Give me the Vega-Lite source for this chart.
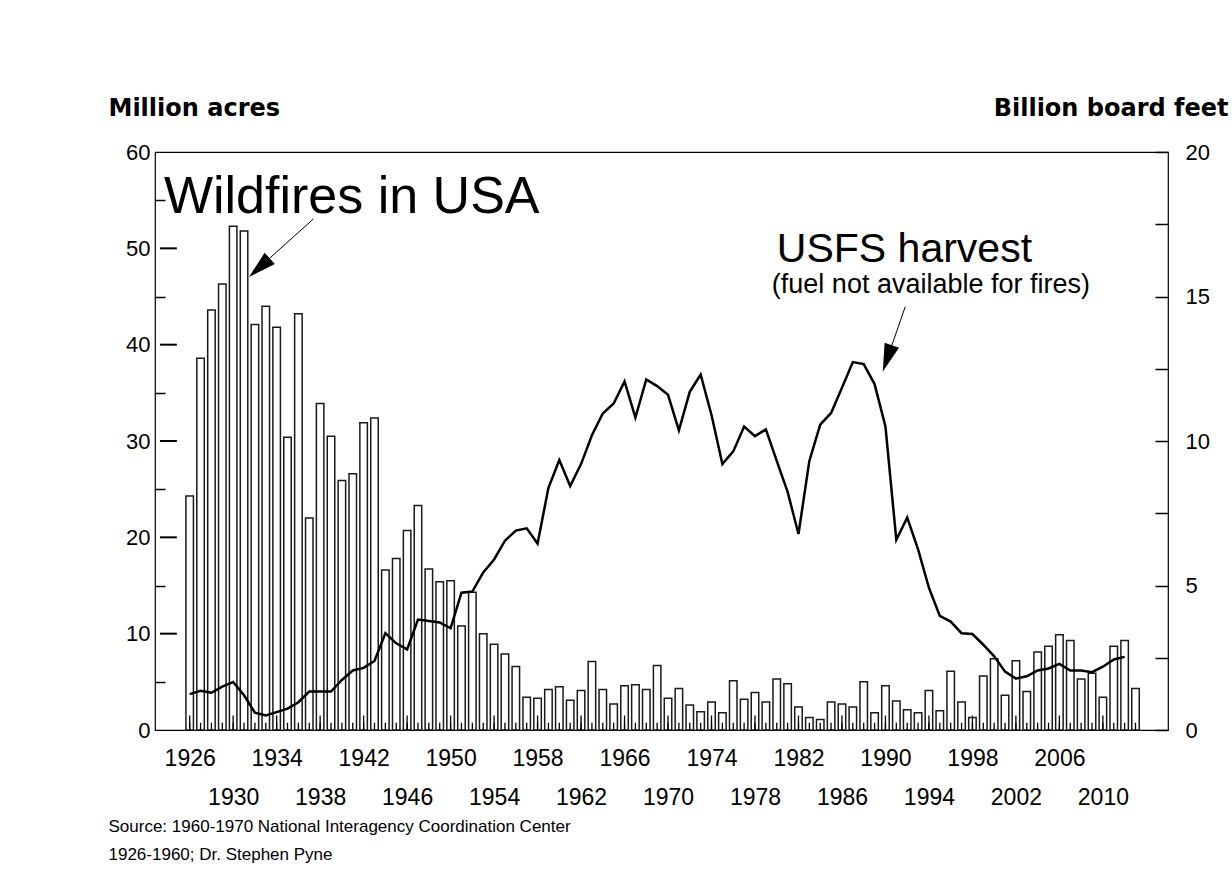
{
  "$schema": "https://vega.github.io/schema/vega-lite/v6.json",
  "width": 1013,
  "height": 578,
  "autosize": {"type": "none"},
  "padding": {"left": 155, "top": 152, "right": 64, "bottom": 158},
  "background": "white",
  "config": {
    "view": {"stroke": "black", "strokeWidth": 1.2},
    "font": "Liberation Sans",
    "axis": {"labelFont": "Liberation Sans", "titleFont": "Liberation Sans", "labelColor": "black", "titleColor": "black", "tickColor": "black", "grid": false, "domain": false, "tickWidth": 1.5, "zindex": 1}
  },
  "datasets": {
    "fires": [
      {"year": 1926, "acres": 24.3}, {"year": 1927, "acres": 38.6}, {"year": 1928, "acres": 43.6}, {"year": 1929, "acres": 46.3},
      {"year": 1930, "acres": 52.3}, {"year": 1931, "acres": 51.8}, {"year": 1932, "acres": 42.1}, {"year": 1933, "acres": 44.0},
      {"year": 1934, "acres": 41.8}, {"year": 1935, "acres": 30.4}, {"year": 1936, "acres": 43.2}, {"year": 1937, "acres": 22.0},
      {"year": 1938, "acres": 33.9}, {"year": 1939, "acres": 30.5}, {"year": 1940, "acres": 25.9}, {"year": 1941, "acres": 26.6},
      {"year": 1942, "acres": 31.9}, {"year": 1943, "acres": 32.4}, {"year": 1944, "acres": 16.6}, {"year": 1945, "acres": 17.8},
      {"year": 1946, "acres": 20.7}, {"year": 1947, "acres": 23.3}, {"year": 1948, "acres": 16.7}, {"year": 1949, "acres": 15.4},
      {"year": 1950, "acres": 15.5}, {"year": 1951, "acres": 10.8}, {"year": 1952, "acres": 14.3}, {"year": 1953, "acres": 10.0},
      {"year": 1954, "acres": 8.9}, {"year": 1955, "acres": 7.9}, {"year": 1956, "acres": 6.6}, {"year": 1957, "acres": 3.4},
      {"year": 1958, "acres": 3.3}, {"year": 1959, "acres": 4.2}, {"year": 1960, "acres": 4.5}, {"year": 1961, "acres": 3.1},
      {"year": 1962, "acres": 4.1}, {"year": 1963, "acres": 7.1}, {"year": 1964, "acres": 4.2}, {"year": 1965, "acres": 2.7},
      {"year": 1966, "acres": 4.6}, {"year": 1967, "acres": 4.7}, {"year": 1968, "acres": 4.2}, {"year": 1969, "acres": 6.7},
      {"year": 1970, "acres": 3.3}, {"year": 1971, "acres": 4.3}, {"year": 1972, "acres": 2.6}, {"year": 1973, "acres": 1.9},
      {"year": 1974, "acres": 2.9}, {"year": 1975, "acres": 1.8}, {"year": 1976, "acres": 5.1}, {"year": 1977, "acres": 3.2},
      {"year": 1978, "acres": 3.9}, {"year": 1979, "acres": 2.9}, {"year": 1980, "acres": 5.3}, {"year": 1981, "acres": 4.8},
      {"year": 1982, "acres": 2.4}, {"year": 1983, "acres": 1.3}, {"year": 1984, "acres": 1.1}, {"year": 1985, "acres": 2.9},
      {"year": 1986, "acres": 2.7}, {"year": 1987, "acres": 2.4}, {"year": 1988, "acres": 5.0}, {"year": 1989, "acres": 1.8},
      {"year": 1990, "acres": 4.6}, {"year": 1991, "acres": 3.0}, {"year": 1992, "acres": 2.1}, {"year": 1993, "acres": 1.8},
      {"year": 1994, "acres": 4.1}, {"year": 1995, "acres": 2.0}, {"year": 1996, "acres": 6.1}, {"year": 1997, "acres": 2.9},
      {"year": 1998, "acres": 1.3}, {"year": 1999, "acres": 5.6}, {"year": 2000, "acres": 7.4}, {"year": 2001, "acres": 3.6},
      {"year": 2002, "acres": 7.2}, {"year": 2003, "acres": 4.0}, {"year": 2004, "acres": 8.1}, {"year": 2005, "acres": 8.7},
      {"year": 2006, "acres": 9.9}, {"year": 2007, "acres": 9.3}, {"year": 2008, "acres": 5.3}, {"year": 2009, "acres": 5.9},
      {"year": 2010, "acres": 3.4}, {"year": 2011, "acres": 8.7}, {"year": 2012, "acres": 9.3}, {"year": 2013, "acres": 4.3}
    ],
    "harvest": [
      {"year": 1926, "bbf": 1.24}, {"year": 1927, "bbf": 1.36}, {"year": 1928, "bbf": 1.29}, {"year": 1929, "bbf": 1.5},
      {"year": 1930, "bbf": 1.66}, {"year": 1931, "bbf": 1.2}, {"year": 1932, "bbf": 0.6}, {"year": 1933, "bbf": 0.5},
      {"year": 1934, "bbf": 0.62}, {"year": 1935, "bbf": 0.74}, {"year": 1936, "bbf": 0.96}, {"year": 1937, "bbf": 1.33},
      {"year": 1938, "bbf": 1.33}, {"year": 1939, "bbf": 1.33}, {"year": 1940, "bbf": 1.73}, {"year": 1941, "bbf": 2.06},
      {"year": 1942, "bbf": 2.15}, {"year": 1943, "bbf": 2.39}, {"year": 1944, "bbf": 3.35}, {"year": 1945, "bbf": 3.0},
      {"year": 1946, "bbf": 2.79}, {"year": 1947, "bbf": 3.82}, {"year": 1948, "bbf": 3.77}, {"year": 1949, "bbf": 3.72},
      {"year": 1950, "bbf": 3.52}, {"year": 1951, "bbf": 4.75}, {"year": 1952, "bbf": 4.79}, {"year": 1953, "bbf": 5.45},
      {"year": 1954, "bbf": 5.9}, {"year": 1955, "bbf": 6.55}, {"year": 1956, "bbf": 6.9}, {"year": 1957, "bbf": 6.98},
      {"year": 1958, "bbf": 6.45}, {"year": 1959, "bbf": 8.38}, {"year": 1960, "bbf": 9.34}, {"year": 1961, "bbf": 8.44},
      {"year": 1962, "bbf": 9.2}, {"year": 1963, "bbf": 10.2}, {"year": 1964, "bbf": 10.95}, {"year": 1965, "bbf": 11.3},
      {"year": 1966, "bbf": 12.06}, {"year": 1967, "bbf": 10.81}, {"year": 1968, "bbf": 12.13}, {"year": 1969, "bbf": 11.9},
      {"year": 1970, "bbf": 11.6}, {"year": 1971, "bbf": 10.37}, {"year": 1972, "bbf": 11.7}, {"year": 1973, "bbf": 12.3},
      {"year": 1974, "bbf": 10.9}, {"year": 1975, "bbf": 9.2}, {"year": 1976, "bbf": 9.64}, {"year": 1977, "bbf": 10.5},
      {"year": 1978, "bbf": 10.17}, {"year": 1979, "bbf": 10.4}, {"year": 1980, "bbf": 9.31}, {"year": 1981, "bbf": 8.24},
      {"year": 1982, "bbf": 6.78}, {"year": 1983, "bbf": 9.31}, {"year": 1984, "bbf": 10.57}, {"year": 1985, "bbf": 10.97},
      {"year": 1986, "bbf": 11.84}, {"year": 1987, "bbf": 12.73}, {"year": 1988, "bbf": 12.66}, {"year": 1989, "bbf": 11.97},
      {"year": 1990, "bbf": 10.5}, {"year": 1991, "bbf": 6.58}, {"year": 1992, "bbf": 7.35}, {"year": 1993, "bbf": 6.25},
      {"year": 1994, "bbf": 4.92}, {"year": 1995, "bbf": 3.95}, {"year": 1996, "bbf": 3.75}, {"year": 1997, "bbf": 3.35},
      {"year": 1998, "bbf": 3.32}, {"year": 1999, "bbf": 2.95}, {"year": 2000, "bbf": 2.55}, {"year": 2001, "bbf": 2.02},
      {"year": 2002, "bbf": 1.78}, {"year": 2003, "bbf": 1.86}, {"year": 2004, "bbf": 2.06}, {"year": 2005, "bbf": 2.13},
      {"year": 2006, "bbf": 2.29}, {"year": 2007, "bbf": 2.06}, {"year": 2008, "bbf": 2.06}, {"year": 2009, "bbf": 2.0},
      {"year": 2010, "bbf": 2.19}, {"year": 2011, "bbf": 2.44}, {"year": 2012, "bbf": 2.53}
    ]
  },
  "layer": [
    {
      "layer": [
        {
          "data": {"name": "fires"},
          "mark": {"type": "bar", "fill": "white", "stroke": "#1a1a1a", "strokeWidth": 1.5, "width": 7.5},
          "encoding": {
            "x": {
              "field": "year", "type": "quantitative",
              "scale": {"domain": [1923.27, 2015.53], "nice": false, "zero": false},
              "axis": null
            },
            "y": {
              "field": "acres", "type": "quantitative",
              "scale": {"domain": [0, 60], "nice": false},
              "axis": {
                "orient": "left",
                "values": [0,10,20,30,40,50,60],
                "ticks": false,
                "labelPadding": 5,
                "labelFontSize": 22,
                "labelBaseline": "middle",
                "title": "Million acres",
                "titleFont": "DejaVu Sans",
                "titleAngle": 0,
                "titleX": -47,
                "titleY": -44,
                "titleAlign": "left",
                "titleBaseline": "middle",
                "titleFontSize": 24,
                "titleFontWeight": "bold"
              }
            },
            "y2": {"datum": 0}
          }
        },
        {
          "data": {"name": "fires"},
          "mark": {"type": "rule", "color": "black", "strokeWidth": 1.3},
          "encoding": {
            "x": {"field": "year", "type": "quantitative", "axis": null},
            "y": {"datum": 0, "axis": null},
            "y2": {"datum": 0.75}
          }
        },
        {
          "data": {"name": "fires"},
          "transform": [{"filter": "(datum.year - 1926) % 4 == 0"}],
          "mark": {"type": "rule", "color": "black", "strokeWidth": 1.3},
          "encoding": {
            "x": {"field": "year", "type": "quantitative", "axis": null},
            "y": {"datum": 0, "axis": null},
            "y2": {"datum": 1.5}
          }
        },
        {
          "data": {"values": [{}]},
          "mark": {"type": "rule", "color": "black", "strokeWidth": 2},
          "encoding": {"x": {"datum": 1923.27, "axis": null}, "x2": {"datum": 1924.82}, "y": {"datum": 10, "axis": null}}
        },
        {
          "data": {"values": [{}]},
          "mark": {"type": "rule", "color": "black", "strokeWidth": 2},
          "encoding": {"x": {"datum": 1923.27, "axis": null}, "x2": {"datum": 1924.82}, "y": {"datum": 20, "axis": null}}
        },
        {
          "data": {"values": [{}]},
          "mark": {"type": "rule", "color": "black", "strokeWidth": 2},
          "encoding": {"x": {"datum": 1923.27, "axis": null}, "x2": {"datum": 1924.82}, "y": {"datum": 30, "axis": null}}
        },
        {
          "data": {"values": [{}]},
          "mark": {"type": "rule", "color": "black", "strokeWidth": 2},
          "encoding": {"x": {"datum": 1923.27, "axis": null}, "x2": {"datum": 1924.82}, "y": {"datum": 40, "axis": null}}
        },
        {
          "data": {"values": [{}]},
          "mark": {"type": "rule", "color": "black", "strokeWidth": 2},
          "encoding": {"x": {"datum": 1923.27, "axis": null}, "x2": {"datum": 1924.82}, "y": {"datum": 50, "axis": null}}
        },
        {
          "data": {"values": [{}]},
          "mark": {"type": "text", "align": "left", "baseline": "middle", "fontSize": 52, "font": "Liberation Sans", "color": "black"},
          "encoding": {
            "x": {"datum": 1923.63, "axis": null},
            "y": {"datum": 55.33, "axis": {"orient": "left", "values": [5,15,25,35,45,55], "tickSize": -10, "tickColor": "black", "tickWidth": 1.5, "labels": false, "title": null}},
            "text": {"value": "Wildfires in USA"}
          }
        },
        {
          "data": {"values": [{}]},
          "mark": {"type": "text", "align": "left", "baseline": "middle", "fontSize": 41, "font": "Liberation Sans", "color": "black"},
          "encoding": {"x": {"datum": 1980.01, "axis": null}, "y": {"datum": 49.83, "axis": null}, "text": {"value": "USFS harvest"}}
        },
        {
          "data": {"values": [{}]},
          "mark": {"type": "text", "align": "left", "baseline": "middle", "fontSize": 27, "font": "Liberation Sans", "color": "black"},
          "encoding": {"x": {"datum": 1979.55, "axis": null}, "y": {"datum": 46.2, "axis": null}, "text": {"value": "(fuel not available for fires)"}}
        },
        {
          "data": {"values": [{}]},
          "mark": {"type": "rule", "strokeWidth": 1, "color": "black"},
          "encoding": {"x": {"datum": 1937.38, "axis": null}, "y": {"datum": 53.05, "axis": null}, "x2": {"datum": 1931.9}, "y2": {"datum": 47.5}}
        },
        {
          "data": {"values": [{}]},
          "mark": {"type": "rule", "strokeWidth": 1, "color": "black"},
          "encoding": {"x": {"datum": 1991.82, "axis": null}, "y": {"datum": 43.94, "axis": null}, "x2": {"datum": 1990.0}, "y2": {"datum": 38.0}}
        },
        {
          "data": {"values": [{}]},
          "mark": {"type": "point", "shape": "M0,0L-0.6,2.2L0.6,2.2Z", "filled": true, "fill": "black", "opacity": 1, "size": 640, "angle": 228, "strokeWidth": 0},
          "encoding": {"x": {"datum": 1931.46, "axis": null}, "y": {"datum": 47.03, "axis": null}}
        },
        {
          "data": {"values": [{}]},
          "mark": {"type": "point", "shape": "M0,0L-0.6,2.2L0.6,2.2Z", "filled": true, "fill": "black", "opacity": 1, "size": 640, "angle": 199, "strokeWidth": 0},
          "encoding": {"x": {"datum": 1989.75, "axis": null}, "y": {"datum": 37.2, "axis": null}}
        }
      ],
      "resolve": {"axis": {"y": "independent"}}
    },
    {
      "data": {"name": "harvest"},
      "mark": {"type": "line", "color": "black", "strokeWidth": 2.5},
      "encoding": {
        "x": {
          "field": "year", "type": "quantitative",
          "axis": {
            "orient": "bottom",
            "values": [1926,1930,1934,1938,1942,1946,1950,1954,1958,1962,1966,1970,1974,1978,1982,1986,1990,1994,1998,2002,2006,2010],
            "format": "d",
            "ticks": false,
            "labelPadding": {"condition": {"test": "(datum.value - 1926) % 8 == 0", "value": 28}, "value": 67},
            "labelBaseline": "middle",
            "labelFontSize": 23,
            "labelOverlap": false,
            "labelFlush": false,
            "title": ["Source: 1960-1970 National Interagency Coordination Center", "1926-1960; Dr. Stephen Pyne"],
            "titleX": -47,
            "titleY": 101,
            "titleAlign": "left",
            "titleAnchor": "start",
            "titleBaseline": "alphabetic",
            "titleFontSize": 17,
            "titleFontWeight": "normal",
            "titleLineHeight": 28
          }
        },
        "y": {
          "field": "bbf", "type": "quantitative",
          "scale": {"domain": [0, 20], "nice": false},
          "axis": {
            "orient": "right",
            "values": [0,2.5,5,7.5,10,12.5,15,17.5,20],
            "labelExpr": "datum.value % 5 == 0 ? '' + datum.value : ''",
            "tickSize": -13,
            "tickColor": "black",
            "tickWidth": 1.5,
            "labelPadding": 30,
            "labelFontSize": 22,
            "labelAlign": "left",
            "labelBaseline": "middle",
            "title": "Billion board feet",
            "titleFont": "DejaVu Sans",
            "titleAngle": 0,
            "titleX": 60,
            "titleY": -44,
            "titleAlign": "right",
            "titleBaseline": "middle",
            "titleFontSize": 24,
            "titleFontWeight": "bold"
          }
        }
      }
    }
  ],
  "resolve": {"scale": {"y": "independent"}, "axis": {"x": "independent"}}
}
